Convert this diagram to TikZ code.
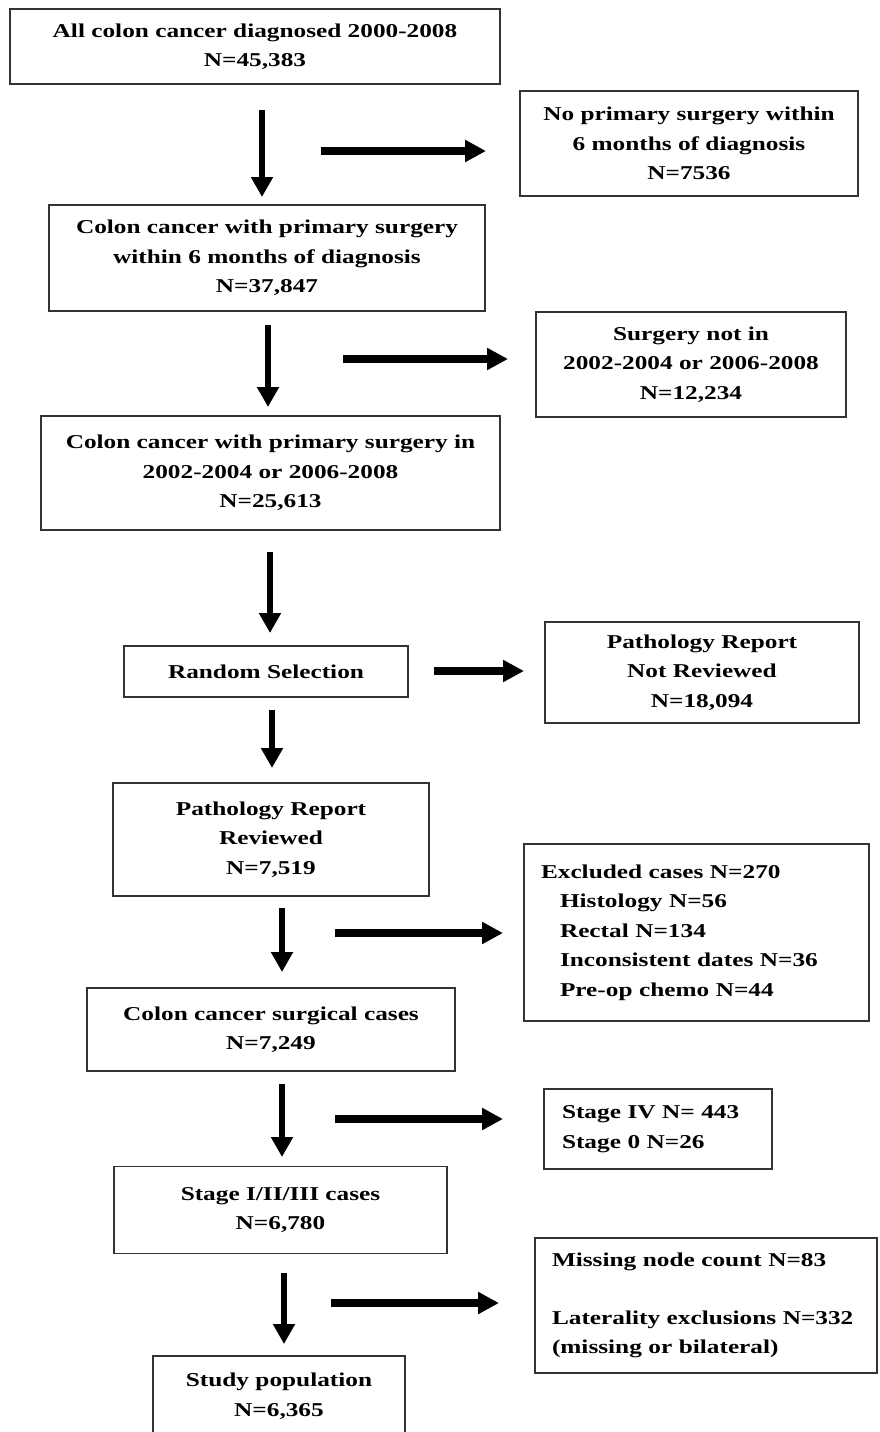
\documentclass[tikz,border=0pt]{standalone}
\usepackage{fontspec}
\setmainfont{Liberation Serif}[FakeStretch=1.29]
\usetikzlibrary{arrows.meta}
\tikzset{
  base/.style={draw=black!80, line width=1.8pt, inner sep=0pt,
    font=\fontsize{19.6}{29.5}\selectfont\bfseries},
  cbox/.style={base, align=center},
  lbox/.style={base, align=left, inner xsep=#1},
  varrow/.style={line width=6.5pt, -{Triangle[length=20pt,width=21pt]}},
  harrow/.style={line width=8pt, -{Triangle[length=21pt,width=21pt]}}
}
\begin{document}
\begin{tikzpicture}[x=1pt,y=-1pt]
\useasboundingbox (0,0) rectangle (879,1432);
% main column
\node[cbox, minimum width=490pt, minimum height=75pt] (b1) at (255,46.5)
  {All colon cancer diagnosed 2000-2008\\N=45,383};
\node[cbox, minimum width=436pt, minimum height=106pt] (b2) at (267,258)
  {Colon cancer with primary surgery\\within 6 months of diagnosis\\N=37,847};
\node[cbox, minimum width=459pt, minimum height=114pt] (b3) at (270.5,473)
  {Colon cancer with primary surgery in\\2002-2004 or 2006-2008\\N=25,613};
\node[cbox, minimum width=284pt, minimum height=51pt] (b4) at (266,671.5)
  {Random Selection};
\node[cbox, minimum width=316pt, minimum height=113pt] (b5) at (271,839.5)
  {Pathology Report\\Reviewed\\N=7,519};
\node[cbox, minimum width=368pt, minimum height=83pt] (b6) at (271,1029.5)
  {Colon cancer surgical cases\\N=7,249};
\node[cbox, minimum width=333pt, minimum height=87pt] (b7) at (280.5,1210)
  {Stage I/II/III cases\\N=6,780};
\node[cbox, minimum width=252pt, minimum height=80pt] (b8) at (279,1396)
  {Study population\\N=6,365};
% exclusion column
\node[cbox, minimum width=338pt, minimum height=105pt] (n1) at (689,143.5)
  {No primary surgery within\\6 months of diagnosis\\N=7536};
\node[cbox, minimum width=310pt, minimum height=105pt] (n2) at (691,364.5)
  {Surgery not in\\2002-2004 or 2006-2008\\N=12,234};
\node[cbox, minimum width=314pt, minimum height=101pt] (n3) at (702,672.5)
  {Pathology Report\\Not Reviewed\\N=18,094};
\node[lbox=17pt, text width=311pt, minimum height=177pt] (n4) at (696.5,932.5)
  {\mbox{Excluded cases N=270}\\
   \mbox{\hspace*{19pt}Histology N=56}\\
   \mbox{\hspace*{19pt}Rectal N=134}\\
   \mbox{\hspace*{19pt}Inconsistent dates N=36}\\
   \mbox{\hspace*{19pt}Pre-op chemo N=44}};
\node[lbox=18pt, text width=192pt, minimum height=80pt] (n5) at (658,1129)
  {\mbox{Stage IV N= 443}\\\mbox{Stage 0 N=26}};
\node[lbox=17pt, text width=308pt, minimum height=135pt] (n6) at (706,1305.5)
  {\mbox{Missing node count N=83}\\[28.5pt]
   \mbox{Laterality exclusions N=332}\\
   \mbox{(missing or bilateral)}};
% arrow end points
\coordinate (v1s) at (262,110);  \coordinate (v1e) at (262,197);
\coordinate (h1s) at (321,151);  \coordinate (h1e) at (486,151);
\coordinate (v2s) at (268,325);  \coordinate (v2e) at (268,407);
\coordinate (h2s) at (343,359);  \coordinate (h2e) at (508,359);
\coordinate (v3s) at (270,552);  \coordinate (v3e) at (270,633);
\coordinate (h3s) at (434,671);  \coordinate (h3e) at (524,671);
\coordinate (v4s) at (272,710);  \coordinate (v4e) at (272,768);
\coordinate (h4s) at (335,933);  \coordinate (h4e) at (503,933);
\coordinate (v5s) at (282,908);  \coordinate (v5e) at (282,972);
\coordinate (h5s) at (335,1119); \coordinate (h5e) at (503,1119);
\coordinate (v6s) at (282,1084); \coordinate (v6e) at (282,1157);
\coordinate (h6s) at (331,1303); \coordinate (h6e) at (499,1303);
\coordinate (v7s) at (284,1273); \coordinate (v7e) at (284,1344);
\draw[varrow] (v1s) -- (v1e);
\draw[harrow] (h1s) -- (h1e);
\draw[varrow] (v2s) -- (v2e);
\draw[harrow] (h2s) -- (h2e);
\draw[varrow] (v3s) -- (v3e);
\draw[harrow] (h3s) -- (h3e);
\draw[varrow] (v4s) -- (v4e);
\draw[harrow] (h4s) -- (h4e);
\draw[varrow] (v5s) -- (v5e);
\draw[harrow] (h5s) -- (h5e);
\draw[varrow] (v6s) -- (v6e);
\draw[harrow] (h6s) -- (h6e);
\draw[varrow] (v7s) -- (v7e);
\end{tikzpicture}
\end{document}
